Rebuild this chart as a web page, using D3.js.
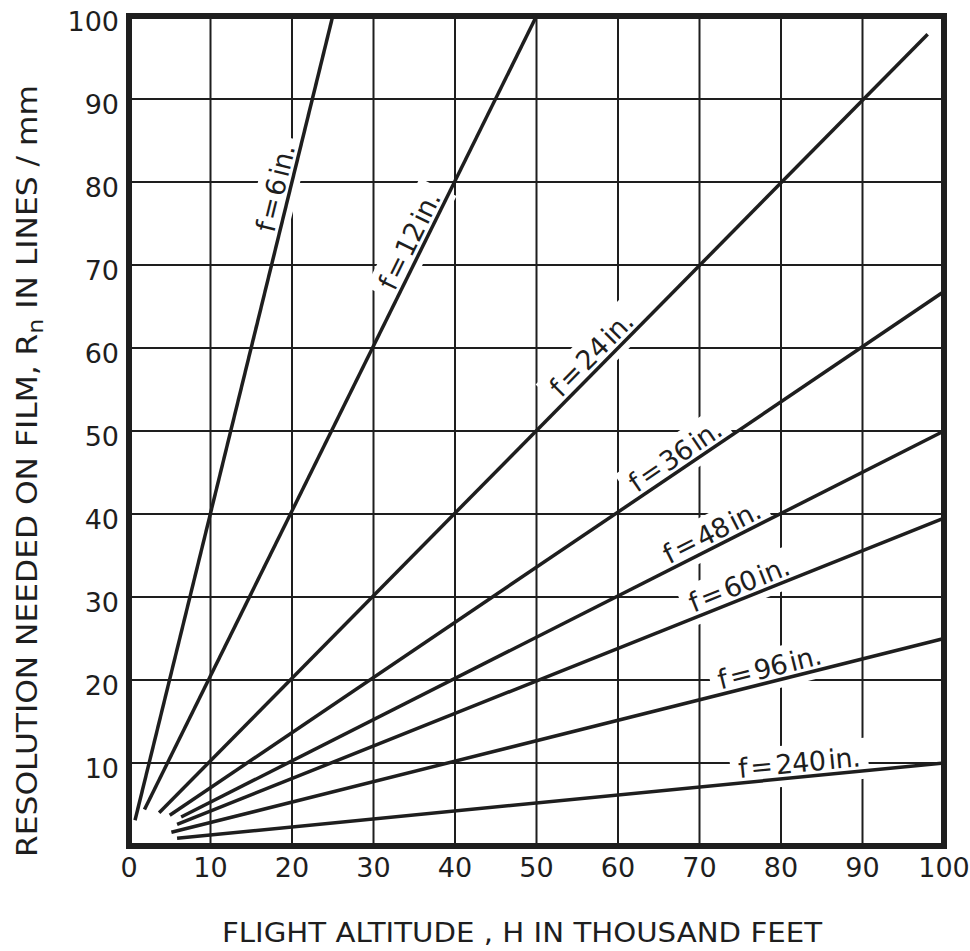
<!DOCTYPE html>
<html><head><meta charset="utf-8">
<script src="https://cdn.jsdelivr.net/npm/d3@7"></script>
<style>body{margin:0;background:#fff;} svg{display:block}</style>
</head><body>
<svg id="chart" width="970" height="951"></svg>
<script>
// ---- data ----
const focalLengths = [6, 12, 24, 36, 48, 60, 96, 240];
const startAltitude = [0.74, 1.9, 3.7, 5.0, 6.4, 5.9, 5.2, 5.9];
const startResolution = [3.1, 4.4, 4.0, 3.7, 3.5, 2.6, 1.65, 0.93];
const endAltitude = [25, 50, 98, 100, 100, 100, 100, 100];
const endResolution = [100, 100, 97.8, 66.8, 50, 39.5, 25, 10];
const labelAltitude = [19.7, 36, 58, 68, 72.3, 75.5, 79, 82.4];
const labelTexts = ["f = 6 in.", "f = 12 in.", "f = 24 in.", "f = 36 in.", "f = 48 in.", "f = 60 in.", "f = 96 in.", "f = 240 in."];
const xTicks = [0, 10, 20, 30, 40, 50, 60, 70, 80, 90, 100];
const yTicks = [10, 20, 30, 40, 50, 60, 70, 80, 90, 100];
const gridValues = [10, 20, 30, 40, 50, 60, 70, 80, 90];
const xTitle = "FLIGHT ALTITUDE , H IN THOUSAND FEET";

const ink = "#1e1e1e";
const svg = d3.select("#chart");
const x = d3.scaleLinear().domain([0, 100]).range([129, 944]);
const y = d3.scaleLinear().domain([0, 100]).range([846, 16]);

// grid
const grid = svg.append("g").attr("stroke", ink).attr("stroke-width", 2);
grid.selectAll(".v").data(gridValues).enter().append("line")
  .attr("x1", d => x(d)).attr("x2", d => x(d)).attr("y1", y(0)).attr("y2", y(100));
grid.selectAll(".h").data(gridValues).enter().append("line")
  .attr("y1", d => y(d)).attr("y2", d => y(d)).attr("x1", x(0)).attr("x2", x(100));

// series
const series = focalLengths.map((f, i) => ({
  f,
  pts: [[startAltitude[i], startResolution[i]], [endAltitude[i], endResolution[i]]],
  labelH: labelAltitude[i],
  text: labelTexts[i]
}));

const labelLayer = svg.append("g");
const lineLayer = svg.append("g");
const textLayer = svg.append("g");

series.forEach(s => {
  const [a, b] = s.pts;
  const px0 = x(a[0]), py0 = y(a[1]), px1 = x(b[0]), py1 = y(b[1]);
  const ang = Math.atan2(py1 - py0, px1 - px0) * 180 / Math.PI;
  const t = (s.labelH - a[0]) / (b[0] - a[0]);
  const R = a[1] + t * (b[1] - a[1]);
  const cx = x(s.labelH), cy = y(R);
  const gt = textLayer.append("g").attr("transform", `translate(${cx},${cy}) rotate(${ang})`);
  const txt = gt.append("text").attr("x", 0).attr("y", -5)
    .attr("text-anchor", "middle")
    .attr("font-family", "'DejaVu Sans', sans-serif")
    .attr("font-size", 27)
    .attr("word-spacing", -5)
    .attr("letter-spacing", -0.5)
    .attr("fill", ink).text(s.text);
  const bb = txt.node().getBBox();
  labelLayer.append("g").attr("transform", `translate(${cx},${cy}) rotate(${ang})`)
    .append("rect")
    .attr("x", bb.x - 8).attr("y", bb.y - 3)
    .attr("width", bb.width + 16).attr("height", bb.height + 10)
    .attr("fill", "#fff");
});

const lineGen = d3.line().x(d => x(d[0])).y(d => y(d[1]));
lineLayer.selectAll("path").data(series).enter().append("path")
  .attr("d", d => lineGen(d.pts))
  .attr("fill", "none").attr("stroke", ink).attr("stroke-width", 3.5)
  .attr("stroke-linecap", "butt");

// frame
svg.append("rect")
  .attr("x", x(0)).attr("y", y(100))
  .attr("width", x(100) - x(0)).attr("height", y(0) - y(100))
  .attr("fill", "none").attr("stroke", ink).attr("stroke-width", 6);

// ticks
svg.append("g").selectAll("text").data(xTicks).enter().append("text")
  .attr("x", d => x(d)).attr("y", 877)
  .attr("text-anchor", "middle")
  .attr("font-family", "'DejaVu Sans', sans-serif").attr("font-size", 27)
  .attr("fill", ink).text(d => d);

svg.append("g").selectAll("text").data(yTicks).enter().append("text")
  .attr("x", 119).attr("y", d => y(d) + 15)
  .attr("text-anchor", "end")
  .attr("font-family", "'DejaVu Sans', sans-serif").attr("font-size", 27)
  .attr("fill", ink).text(d => d);

// axis titles
svg.append("text")
  .attr("x", 222).attr("y", 942)
  .attr("textLength", 600).attr("lengthAdjust", "spacingAndGlyphs")
  .attr("font-family", "'DejaVu Sans', sans-serif").attr("font-size", 26)
  .attr("fill", ink).text(xTitle);

const yt = svg.append("text")
  .attr("transform", "translate(37,857) rotate(-90)")
  .attr("x", 0).attr("y", 0)
  .attr("textLength", 772).attr("lengthAdjust", "spacingAndGlyphs")
  .attr("font-family", "'DejaVu Sans', sans-serif").attr("font-size", 29)
  .attr("fill", ink);
yt.append("tspan").text("RESOLUTION NEEDED ON FILM, R");
yt.append("tspan").attr("dy", 6).attr("font-size", 22).text("n");
yt.append("tspan").attr("dy", -6).text(" IN LINES / mm");
</script>
</body></html>
